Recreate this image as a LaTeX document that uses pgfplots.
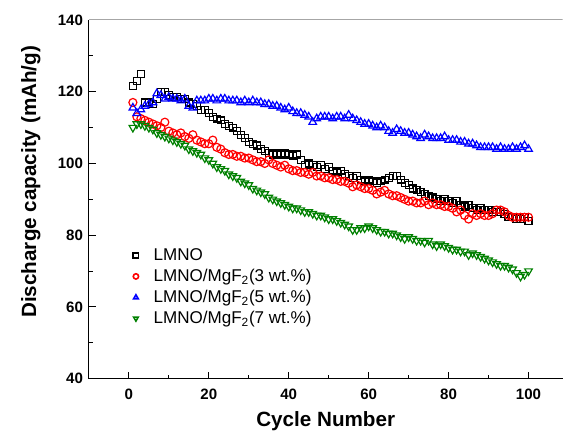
\documentclass[border=0pt]{standalone}
\usepackage{fontspec}
\setmainfont{Liberation Sans}
\usepackage{pgfplots}
\pgfplotsset{compat=1.18}
\definecolor{mygreen}{RGB}{0,128,0}
\definecolor{myred}{RGB}{255,0,0}
\definecolor{myblue}{RGB}{0,0,255}
\begin{document}
\begin{tikzpicture}
\begin{axis}[
  name=ax,
  scale only axis,
  width=355.5pt, height=269.25pt,
  xmin=-10, xmax=108.5, ymin=40, ymax=140,
  axis x line*=bottom, axis y line*=left,
  axis line style={black, line width=0.75pt},
  xtick={0,20,...,100}, minor xtick={10,30,...,90},
  ytick={40,60,...,140}, minor ytick={50,70,...,130},
  tick align=inside,
  major tick length=5pt, minor tick length=3pt,
  tick style={black, line width=0.75pt},
  /pgf/number format/assume math mode=true,
  ticklabel style={font=\fontsize{11.3}{13}\selectfont\bfseries},
  xticklabel style={yshift=-4pt},
  yticklabel style={xshift=-1pt},
  xlabel={Cycle Number},
  ylabel={Discharge capacity (mAh/g)},
  label style={font=\fontsize{15.5}{18}\selectfont\bfseries},
  xlabel style={yshift=-2pt},
  ylabel style={at={(ticklabel cs:0.549)}, yshift=6pt},
  legend style={draw=none, fill=none, at={(rel axis cs:0.081,0.378)}, anchor=north west,
    font=\fontsize{12.8}{15}\selectfont, row sep=1pt},
  legend cell align=left,
  legend image code/.code={\path (0cm,0cm) (0.48cm,0cm); \draw[#1, mark size=2pt, line width=1.2pt] plot coordinates {(0.1cm,0cm)};},
]
\addplot[only marks, mark=square, mark size=2.6pt, line width=0.9pt, black] coordinates {
(1,121.5)(2,123)(3,125)(4,117)(5,117)(6,116.5)(7,118)(8,120)(9,120)(10,119)
(11,118.5)(12,118.5)(13,118)(14,118)(15,117)(16,116.5)(17,116)(18,115)(19,115)(20,114)
(21,113)(22,112.5)(23,112)(24,111)(25,110.5)(26,110)(27,109)(28,108)(29,107)(30,106)
(31,105.5)(32,105)(33,104)(34,103.5)(35,103)(36,102.5)(37,103)(38,102.5)(39,103)(40,102.5)
(41,102)(42,102.5)(43,101)(44,99.5)(45,100)(46,99.5)(47,99)(48,99.5)(49,98.5)(50,99)
(51,98)(52,97.5)(53,98)(54,97)(55,96.5)(56,96)(57,96.5)(58,95.5)(59,95)(60,95.5)
(61,95)(62,94.5)(63,95)(64,95.5)(65,96)(66,96.5)(67,96.5)(68,95.5)(69,94.5)(70,94)
(71,93)(72,92.5)(73,92)(74,91.5)(75,91)(76,90.5)(77,90)(78,89.5)(79,90)(80,89.5)
(81,89)(82,89.5)(83,88.5)(84,88)(85,88.5)(86,87.5)(87,87)(88,87.5)(89,87)(90,87)
(91,86.5)(92,87)(93,86.5)(94,86)(95,85)(96,85)(97,84.5)(98,84.5)(99,85)(100,84)
};
\addlegendentry{LMNO}
\addplot[only marks, mark=o, mark size=3pt, line width=0.9pt, myred] coordinates {
(1,117)(2,113)(3,112.5)(4,112)(5,111.5)(6,111)(7,110.5)(8,110)(9,111.5)(10,109)
(11,108.5)(12,108)(13,108.5)(14,107.5)(15,107)(16,108)(17,106.5)(18,106)(19,105.5)(20,105.5)
(21,106.5)(22,104.5)(23,104)(24,103)(25,102.5)(26,102.5)(27,102)(28,102)(29,101.5)(30,101.5)
(31,101)(32,100.5)(33,100.5)(34,100)(35,101)(36,100)(37,99.5)(38,99)(39,99.5)(40,98.5)
(41,98)(42,98)(43,97.5)(44,97.5)(45,97)(46,97.5)(47,96.5)(48,96.5)(49,96)(50,96)
(51,95.5)(52,95.5)(53,95)(54,95)(55,94.5)(56,93.5)(57,94)(58,93.5)(59,93)(60,93)
(61,92.5)(62,91.5)(63,92)(64,92.5)(65,91.5)(66,91)(67,91)(68,90.5)(69,90)(70,89.5)
(71,89.5)(72,89)(73,89)(74,89.5)(75,88.5)(76,89)(77,88.5)(78,88.5)(79,88)(80,88)
(81,87.5)(82,86.5)(83,87)(84,85.5)(85,84.5)(86,86)(87,85.5)(88,86)(89,85.5)(90,85.5)
(91,86)(92,87)(93,87)(94,86.5)(95,85.5)(96,85)(97,85)(98,85)(99,85)(100,85)
};
\addlegendentry{LMNO/MgF\textsubscript{2}(3 wt.\%)}
\addplot[only marks, mark=triangle, mark size=3.3pt, line width=0.9pt, myblue] coordinates {
(1,115.5)(2,114)(3,115)(4,116)(5,116.5)(6,117)(7,119.5)(8,119)(9,118)(10,118.5)
(11,118)(12,118)(13,117.5)(14,118)(15,116)(16,115.5)(17,117.5)(18,117.5)(19,117.5)(20,118)
(21,118)(22,117.5)(23,118)(24,118)(25,117.5)(26,117.5)(27,117.5)(28,117)(29,117.5)(30,117)
(31,117.5)(32,117)(33,117)(34,116.5)(35,116.5)(36,116)(37,116)(38,115.5)(39,115)(40,115.5)
(41,114.5)(42,114)(43,114)(44,113.5)(45,113)(46,111.5)(47,112.5)(48,113)(49,113)(50,113)
(51,112.5)(52,113)(53,113)(54,112.5)(55,113.5)(56,112.5)(57,112)(58,111.5)(59,111)(60,111)
(61,110.5)(62,110)(63,110.5)(64,110)(65,109)(66,108.5)(67,109.5)(68,109)(69,108.5)(70,108.5)
(71,108)(72,107.5)(73,107)(74,108)(75,107.5)(76,107)(77,107)(78,107)(79,107.5)(80,106.5)
(81,106.5)(82,106.5)(83,106)(84,106)(85,105.5)(86,105.5)(87,105)(88,104.5)(89,104.5)(90,104.5)
(91,104.5)(92,104)(93,104.5)(94,104)(95,104)(96,104.5)(97,104)(98,104.5)(99,105)(100,104)
};
\addlegendentry{LMNO/MgF\textsubscript{2}(5 wt.\%)}
\addplot[only marks, mark=triangle, mark options={rotate=180}, mark size=3.3pt, line width=0.9pt, mygreen] coordinates {
(1,110)(2,111)(3,111)(4,110.5)(5,110)(6,109.5)(7,108.5)(8,108)(9,107.5)(10,107)
(11,106.5)(12,106)(13,105.5)(14,105)(15,104)(16,103.5)(17,103)(18,102.5)(19,101.5)(20,101)
(21,100)(22,99)(23,98.5)(24,98)(25,97)(26,96.5)(27,96)(28,95)(29,94.5)(30,94)
(31,93)(32,92.5)(33,92)(34,91.5)(35,90.5)(36,90)(37,89.5)(38,89)(39,88.5)(40,88)
(41,87.5)(42,87.5)(43,87)(44,86.5)(45,86.5)(46,86)(47,85.5)(48,85.5)(49,85)(50,84.5)
(51,84.5)(52,84)(53,83.5)(54,83)(55,82.5)(56,81.5)(57,81.5)(58,82)(59,82)(60,82.5)
(61,82)(62,81.5)(63,81)(64,81)(65,80.5)(66,80.5)(67,80)(68,79.5)(69,79)(70,79.5)
(71,79)(72,78.5)(73,78.5)(74,78)(75,78.5)(76,77.5)(77,77)(78,77.5)(79,77)(80,76.5)
(81,76)(82,76)(83,75.5)(84,75.5)(85,74.5)(86,75)(87,74.5)(88,74)(89,73.5)(90,73)
(91,72.5)(92,72)(93,71.5)(94,71.5)(95,71)(96,70.5)(97,69.5)(98,68.5)(99,69)(100,70)
};
\addlegendentry{LMNO/MgF\textsubscript{2}(7 wt.\%)}
\draw[gray!70, line width=0.75pt] (rel axis cs:0,1) -- (rel axis cs:1,1);
\end{axis}
\path[use as bounding box] ([xshift=-66.75pt,yshift=-44.25pt]ax.south west) rectangle ([yshift=15pt]ax.north east);
\end{tikzpicture}
\end{document}
